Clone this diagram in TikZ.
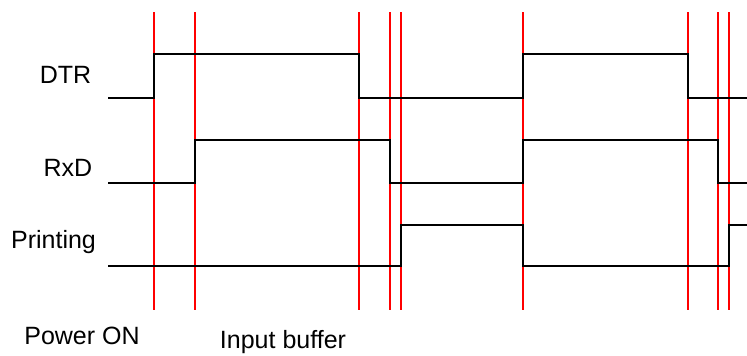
\documentclass[tikz,border=0pt]{standalone}
\usepackage{fontspec}
\setmainfont{Liberation Sans}
\begin{document}
\begin{tikzpicture}[x=1pt,y=-1pt,
  sig/.style={black, line width=1.6pt},
  redline/.style={red, line width=1.3pt},
  lbl/.style={anchor=base, inner sep=0pt, font=\fontsize{25}{29}\selectfont}]
\useasboundingbox (0,0) rectangle (747,356);
% red markers
\foreach \x in {154,195,359,390,401,523,688,718,729}
  \draw[redline] (\x,12) -- (\x,310);
% DTR
\draw[sig] (108,98) -- (154,98) -- (154,54) -- (359,54) -- (359,98) -- (523,98) -- (523,54) -- (688,54) -- (688,98) -- (747,98);
% RxD
\draw[sig] (108,183) -- (195,183) -- (195,140) -- (390,140) -- (390,183) -- (523,183) -- (523,140) -- (718,140) -- (718,183) -- (747,183);
% Printing
\draw[sig] (108,266) -- (401,266) -- (401,225) -- (523,225) -- (523,266) -- (729,266) -- (729,225) -- (747,225);
% labels
\node[lbl] (dtr) at (65.5,83) {DTR};
\node[lbl] (rxd) at (68,176) {RxD};
\node[lbl] (prt) at (53.5,248) {Printing};
\node[lbl] (pon) at (82,344) {Power ON};
\node[lbl] (ibf) at (283,348) {Input buffer};
\end{tikzpicture}
\end{document}
